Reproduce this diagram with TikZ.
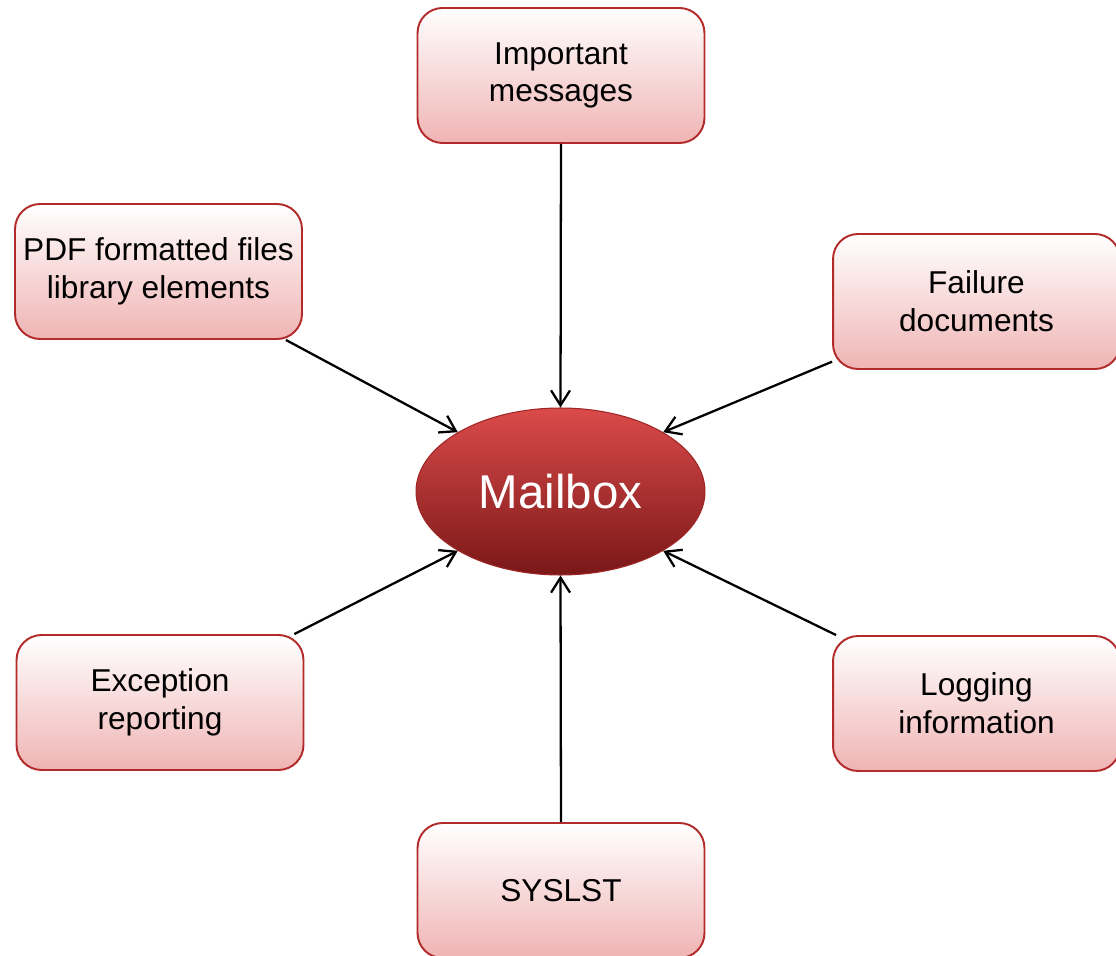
\documentclass[tikz,border=0pt]{standalone}
\usepackage{fontspec}
\setmainfont{Liberation Sans}
\usetikzlibrary{arrows.meta,shapes.geometric}
\definecolor{boxred}{HTML}{B22A2A}
\definecolor{boxpink}{HTML}{F0B4B4}
\definecolor{mailtop}{HTML}{DB4B4B}
\definecolor{mailbottom}{HTML}{7A1717}
\tikzset{
  msgbox/.style={draw=boxred, line width=1.1pt, rounded corners=0.5cm,
    top color=white, bottom color=boxpink, minimum width=5.74cm,
    minimum height=2.7cm, align=center,
    font=\fontsize{18}{21.5}\selectfont},
  mailbox/.style={ellipse, draw=boxred!90!black, line width=0.6pt,
    top color=mailtop, bottom color=mailbottom, minimum width=5.78cm,
    minimum height=3.34cm, text=white, font=\fontsize{27}{30}\selectfont},
  feed/.style={-{Straight Barb[length=3mm,width=3.8mm]}, line width=1.3pt}
}

\begin{document}
\begin{tikzpicture}[x=0.02cm,y=-0.02cm]
				\useasboundingbox (0,0) rectangle (1116,956);
				\clip (0,0) rectangle (1116,956);
				
				\node[mailbox] (mbox) at (560.5,491.5) {Mailbox};
				
				\node[msgbox] (imp) at (561,75.5) {Important\\messages};
				\node[msgbox] (pdf) at (158.5,271.5) {PDF formatted files\\library elements};
				\node[msgbox] (fail) at (976.5,301.5) {Failure\\documents};
				\node[msgbox] (exc) at (160,702.5) {Exception\\reporting};
				\node[msgbox] (log) at (976.5,703.5) {Logging\\information};
				\node[msgbox] (sys) at (561,890.5) {SYSLST};
				
				\draw[feed] (imp.south) -- (mbox.north);
				\draw[feed] (pdf) -- (mbox.150);
				\draw[feed] (fail) -- (mbox.30);
				\draw[feed] (exc) -- (mbox.210);
				\draw[feed] (log) -- (mbox.330);
				\draw[feed] (sys.north) -- (mbox.south);
\end{tikzpicture}
\end{document}
